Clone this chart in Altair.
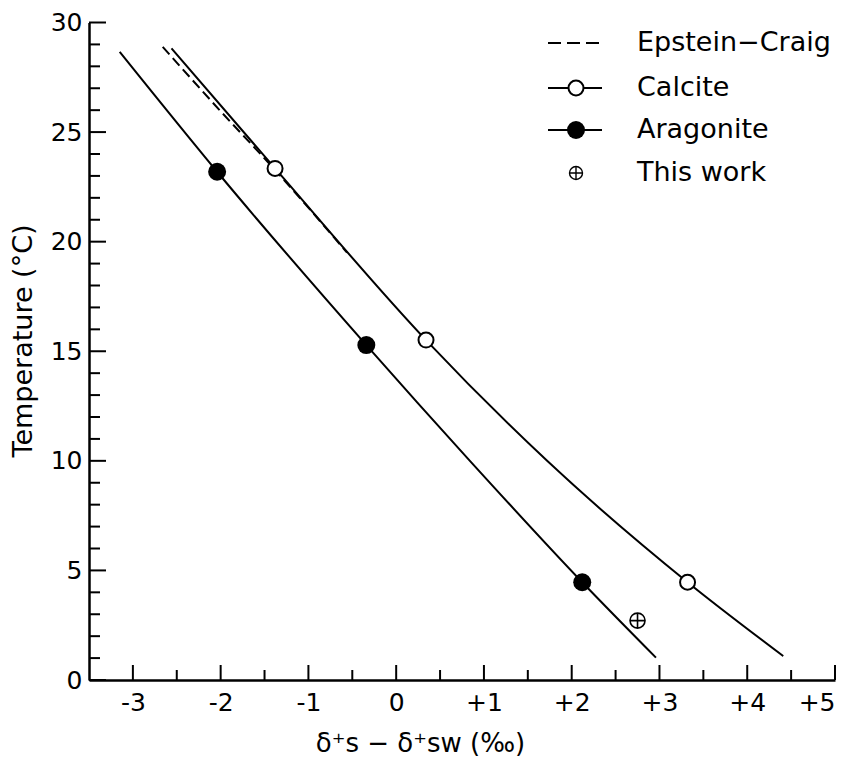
import altair as alt
import pandas as pd

# ---- data ----
calcite_pts_x = [-1.38, 0.34, 3.32]
calcite_pts_t = [23.34, 15.51, 4.46]
aragonite_pts_x = [-2.04, -0.34, 2.12]
aragonite_pts_t = [23.19, 15.28, 4.46]
thiswork_x = [2.75]
thiswork_t = [2.71]

calcite_curve_x = [-2.56, -1.38, 0.34, 1.72, 3.32, 4.41]
calcite_curve_t = [28.82, 23.34, 15.51, 10.0, 4.46, 1.09]
aragonite_curve_x = [-3.15, -2.04, -0.34, 0.84, 2.12, 2.96]
aragonite_curve_t = [28.66, 23.19, 15.28, 10.0, 4.46, 1.02]
epstein_x = [-2.66, -2.0, -1.42, -0.56]
epstein_t = [28.89, 25.95, 23.45, 19.5]

x_major = [-3, -2, -1, 0, 1, 2, 3, 4, 5]
x_minor = [-2.5, -1.5, -0.5, 0.5, 1.5, 2.5, 3.5, 4.5]
y_major = [0, 5, 10, 15, 20, 25, 30]
y_minor = [t for t in range(1, 30) if t % 5 != 0]

legend_labels = ["Epstein\u2212Craig", "Calcite", "Aragonite", "This work"]

x_title = "\u03b4\u207as \u2212 \u03b4\u207asw  (\u2030)"
y_title = "Temperature  (\u00b0C)"

# ---- layout ----
W, H = 746, 657.5
FONT = "DejaVu Sans"

xs = alt.Scale(domain=[-3.5, 5], nice=False, zero=False)
ys = alt.Scale(domain=[0, 30], nice=False, zero=False)

x_axis = alt.Axis(
    values=x_major, ticks=False, grid=False, domainColor="black", domainWidth=2.5,
    labelFont=FONT, labelFontSize=25, labelColor="black", labelPadding=10,
    labelExpr="datum.value > 0 ? '+' + datum.value : (datum.value < 0 ? '-' + abs(datum.value) : '0')",
    title=x_title, titleFont=FONT, titleFontSize=26, titleFontWeight="normal", titleColor="black",
    titleX=331, titleY=63, titleAlign="center", titleBaseline="middle",
)
y_axis = alt.Axis(
    values=y_major, ticks=False, grid=False, domainColor="black", domainWidth=2.5,
    labelFont=FONT, labelFontSize=25, labelColor="black", labelPadding=7,
    title=y_title, titleFont=FONT, titleFontSize=27, titleFontWeight="normal", titleColor="black",
    titleX=-66, titleY=318, titleAlign="center", titleBaseline="middle", titleAngle=-90,
)


def X():
    return alt.X("x:Q", scale=xs, axis=x_axis)


def Y():
    return alt.Y("t:Q", scale=ys, axis=y_axis)


def df(xv, tv):
    return pd.DataFrame({"x": xv, "t": tv})


layers = []

# curves
layers.append(
    alt.Chart(df(calcite_curve_x, calcite_curve_t)).mark_line(
        color="black", strokeWidth=2, interpolate="monotone"
    ).encode(x=X(), y=Y(), order="x:Q")
)
layers.append(
    alt.Chart(df(aragonite_curve_x, aragonite_curve_t)).mark_line(
        color="black", strokeWidth=2, interpolate="monotone"
    ).encode(x=X(), y=Y(), order="x:Q")
)
layers.append(
    alt.Chart(df(epstein_x, epstein_t)).mark_line(
        color="black", strokeWidth=2, strokeDash=[10, 5], interpolate="monotone"
    ).encode(x=X(), y=Y(), order="x:Q")
)

# ticks (inward)
layers.append(
    alt.Chart(pd.DataFrame({"x": x_major})).mark_rule(color="black", strokeWidth=2)
    .encode(x=X(), y=alt.value(H), y2=alt.value(H - 15))
)
layers.append(
    alt.Chart(pd.DataFrame({"x": x_minor})).mark_rule(color="black", strokeWidth=2)
    .encode(x=X(), y=alt.value(H), y2=alt.value(H - 10))
)
layers.append(
    alt.Chart(pd.DataFrame({"t": y_major})).mark_rule(color="black", strokeWidth=2)
    .encode(y=Y(), x=alt.value(0), x2=alt.value(17))
)
layers.append(
    alt.Chart(pd.DataFrame({"t": y_minor})).mark_rule(color="black", strokeWidth=2)
    .encode(y=Y(), x=alt.value(0), x2=alt.value(11))
)

# points
layers.append(
    alt.Chart(df(aragonite_pts_x, aragonite_pts_t)).mark_point(
        shape="circle", filled=True, color="black", size=324, opacity=1
    ).encode(x=X(), y=Y())
)
layers.append(
    alt.Chart(df(calcite_pts_x, calcite_pts_t)).mark_point(
        shape="circle", filled=True, fill="white", stroke="black", strokeWidth=2, size=225, opacity=1
    ).encode(x=X(), y=Y())
)
layers.append(
    alt.Chart(df(thiswork_x, thiswork_t)).mark_point(
        shape="circle", filled=True, fill="white", stroke="black", strokeWidth=1.6, size=225, opacity=1
    ).encode(x=X(), y=Y())
)
layers.append(
    alt.Chart(df(thiswork_x, thiswork_t)).mark_point(
        shape="M-1,0L1,0M0,-1L0,1", filled=False, stroke="black", strokeWidth=1.6, size=225, opacity=1
    ).encode(x=X(), y=Y())
)

# legend (manual)
one = pd.DataFrame({"k": [0]})
rows_y = [20.5, 65.5, 107.5, 150.5]
lx1, lx2, mx, tx = 459, 513, 487, 548

layers.append(
    alt.Chart(one).mark_rule(color="black", strokeWidth=2, strokeDash=[13, 6])
    .encode(x=alt.value(lx1), x2=alt.value(lx2), y=alt.value(rows_y[0]))
)
for r in (1, 2):
    layers.append(
        alt.Chart(one).mark_rule(color="black", strokeWidth=2)
        .encode(x=alt.value(lx1), x2=alt.value(lx2), y=alt.value(rows_y[r]))
    )
layers.append(
    alt.Chart(one).mark_point(shape="circle", filled=True, fill="white", stroke="black",
                              strokeWidth=2, size=225, opacity=1)
    .encode(x=alt.value(mx), y=alt.value(rows_y[1]))
)
layers.append(
    alt.Chart(one).mark_point(shape="circle", filled=True, color="black", size=324, opacity=1)
    .encode(x=alt.value(mx), y=alt.value(rows_y[2]))
)
layers.append(
    alt.Chart(one).mark_point(shape="circle", filled=True, fill="white", stroke="black",
                              strokeWidth=1.4, size=169, opacity=1)
    .encode(x=alt.value(mx), y=alt.value(rows_y[3]))
)
layers.append(
    alt.Chart(one).mark_point(shape="M-1,0L1,0M0,-1L0,1", filled=False, stroke="black",
                              strokeWidth=1.4, size=169, opacity=1)
    .encode(x=alt.value(mx), y=alt.value(rows_y[3]))
)
for r, lab in enumerate(legend_labels):
    layers.append(
        alt.Chart(one).mark_text(align="left", baseline="middle", font=FONT, fontSize=27, color="black")
        .encode(x=alt.value(tx), y=alt.value(rows_y[r]), text=alt.value(lab))
    )

chart = alt.layer(*layers).properties(
    width=W, height=H,
    autosize="none",
    padding={"left": 81, "top": 14.5, "right": 6, "bottom": 82},
    background="white",
).configure_view(stroke="transparent")

chart.save("out.html", embed_options={"renderer": "svg", "actions": False})
